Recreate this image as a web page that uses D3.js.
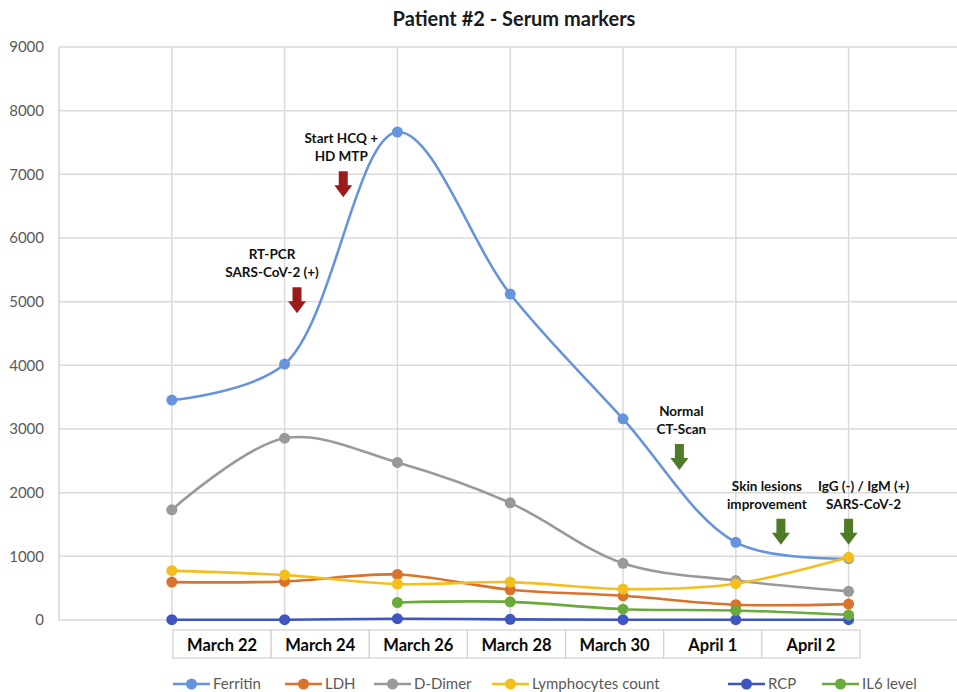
<!DOCTYPE html>
<html>
<head>
<meta charset="utf-8">
<script src="https://cdn.jsdelivr.net/npm/d3@7"></script>
<style>
  html, body { margin: 0; padding: 0; background: #fff; }
  svg { display: block; font-family: Lato, "Open Sans", sans-serif; }
</style>
</head>
<body>
<svg id="chart" width="957" height="692"></svg>
<script>
// ---- data ----
const categories = ["March 22", "March 24", "March 26", "March 28", "March 30", "April 1", "April 2"];
const ferritin    = [3455, 4020, 7665, 5120, 3160, 1220, 965];
const ldh         = [595, 605, 715, 475, 380, 240, 250];
const dDimer      = [1730, 2855, 2475, 1840, 890, 620, 450];
const lymphocytes = [775, 705, 565, 595, 485, 570, 985];
const rcp         = [5, 5, 20, 10, 5, 5, 5];
const il6         = [null, null, 275, 285, 170, 150, 80];
const yTicks      = [0, 1000, 2000, 3000, 4000, 5000, 6000, 7000, 8000, 9000];
const seriesNames = ["Ferritin", "LDH", "D-Dimer", "Lymphocytes count", "RCP", "IL6 level"];
const annotations = [
  { lines: ["RT-PCR", "SARS-CoV-2 (+)"], at: 1.11, value: 4820, kind: "red", textShift: -25 },
  { lines: ["Start HCQ +", "HD MTP"], at: 1.52, value: 6640, kind: "red", textShift: -2 },
  { lines: ["Normal", "CT-Scan"], at: 4.5, value: 2355, kind: "green", textShift: 2 },
  { lines: ["Skin lesions", "improvement"], at: 5.4, value: 1180, kind: "green", textShift: -14 },
  { lines: ["IgG (-) / IgM (+)", "SARS-CoV-2"], at: 6.0, value: 1180, kind: "green", textShift: 15 }
];

const seriesData = [ferritin, ldh, dDimer, lymphocytes, rcp, il6];
const colors = ["#6694dc", "#d9722c", "#999999", "#f2bf1f", "#3f55c0", "#6aaa3c"];
const arrowColors = { red: "#9c1c1c", green: "#4f7a26" };

// ---- layout ----
const W = 957, H = 692;
const plotLeft = 59, plotRight = 957, plotTop = 47, plotBottom = 620;
const svg = d3.select("#chart");

const step = 112.8;
const x = d3.scalePoint().domain(categories).range([plotLeft + step, plotLeft + step * 7]);
const xi = i => x(categories[0]) + i * step;
const y = d3.scaleLinear().domain([0, 9000]).range([plotBottom, plotTop]);

// ---- gridlines ----
const grid = svg.append("g");
grid.selectAll("line.h").data(yTicks).join("line")
  .attr("x1", plotLeft).attr("x2", plotRight)
  .attr("y1", d => y(d)).attr("y2", d => y(d))
  .attr("stroke", "#dadada").attr("stroke-width", 1.5);
grid.append("line")
  .attr("x1", plotLeft).attr("x2", plotLeft)
  .attr("y1", plotTop).attr("y2", plotBottom)
  .attr("stroke", "#d4d4d4").attr("stroke-width", 1.5);
grid.selectAll("line.v").data(categories).join("line")
  .attr("x1", d => x(d)).attr("x2", d => x(d))
  .attr("y1", plotTop).attr("y2", plotBottom)
  .attr("stroke", "#dadada").attr("stroke-width", 1.5);

// ---- y axis labels ----
const yAxis = d3.axisLeft(y).tickValues(yTicks).tickSize(0).tickPadding(0).tickFormat(d3.format("d"));
const yg = svg.append("g").attr("transform", `translate(${plotLeft - 15},0)`).call(yAxis);
yg.select(".domain").remove();
yg.selectAll("text").attr("fill", "#595959").attr("font-size", 15).attr("font-family", "Lato, 'Open Sans', sans-serif");

// ---- title ----
svg.append("text").attr("x", 514).attr("y", 26).attr("text-anchor", "middle")
  .attr("font-size", 20).attr("font-weight", "bold").attr("fill", "#1a1a1a")
  .text("Patient #2 - Serum markers");

// ---- series ----
const line = d3.line()
  .defined(d => d.v !== null)
  .x(d => x(d.c)).y(d => y(d.v))
  .curve(d3.curveCatmullRom.alpha(0.5));

const seriesG = svg.append("g");
seriesData.forEach((vals, si) => {
  const pts = vals.map((v, i) => ({ c: categories[i], v }));
  seriesG.append("path").datum(pts)
    .attr("d", line).attr("fill", "none")
    .attr("stroke", colors[si]).attr("stroke-width", 2.6);
});
seriesData.forEach((vals, si) => {
  const pts = vals.map((v, i) => ({ c: categories[i], v })).filter(d => d.v !== null);
  seriesG.selectAll(null).data(pts).join("circle")
    .attr("cx", d => x(d.c)).attr("cy", d => y(d.v)).attr("r", 5.5)
    .attr("fill", colors[si]);
});

// ---- category table below the axis ----
const tableLeft = 173, tableRight = 860, tableTop = 630, tableBottom = 658;
const cell = d3.scaleBand().domain(categories).range([tableLeft, tableRight]);
const tg = svg.append("g");
tg.selectAll("rect").data(categories).join("rect")
  .attr("x", d => cell(d)).attr("y", tableTop)
  .attr("width", cell.bandwidth()).attr("height", tableBottom - tableTop)
  .attr("fill", "#fff").attr("stroke", "#d0d0d0").attr("stroke-width", 1.2);
tg.selectAll("text").data(categories).join("text")
  .attr("x", d => cell(d) + cell.bandwidth() / 2).attr("y", 650.5)
  .attr("text-anchor", "middle").attr("font-size", 16.5).attr("font-weight", "bold")
  .attr("fill", "#0a0a0a").text(d => d);

// ---- annotations ----
const ag = svg.append("g");
annotations.forEach(a => {
  const ax = xi(a.at), ab = y(a.value);
  const col = arrowColors[a.kind];
  const L = 26, shaftW = 4.5, headW = 9, headH = 12;
  const top = ab - L;
  ag.append("path")
    .attr("d", `M${ax - shaftW},${top} L${ax + shaftW},${top} L${ax + shaftW},${ab - headH} L${ax + headW},${ab - headH} L${ax},${ab} L${ax - headW},${ab - headH} L${ax - shaftW},${ab - headH} Z`)
    .attr("fill", col);
  a.lines.forEach((t, k) => {
    ag.append("text")
      .attr("x", ax + a.textShift).attr("y", top - 10 - (a.lines.length - 1 - k) * 18)
      .attr("text-anchor", "middle").attr("font-size", 13.5).attr("font-weight", "bold")
      .attr("fill", "#111").text(t);
  });
});

// ---- legend ----
const legendX = [173, 285, 374, 492, 728, 822];
const lg = svg.append("g");
seriesNames.forEach((n, i) => {
  const g = lg.append("g").attr("transform", `translate(${legendX[i]},684)`);
  g.append("line").attr("x1", 0).attr("x2", 37).attr("y1", 0).attr("y2", 0)
    .attr("stroke", colors[i]).attr("stroke-width", 2.6);
  g.append("circle").attr("cx", 18.5).attr("cy", 0).attr("r", 5.5).attr("fill", colors[i]);
  g.append("text").attr("x", 40).attr("y", 5).attr("font-size", 15)
    .attr("fill", "#595959").text(n);
});
</script>
</body>
</html>
